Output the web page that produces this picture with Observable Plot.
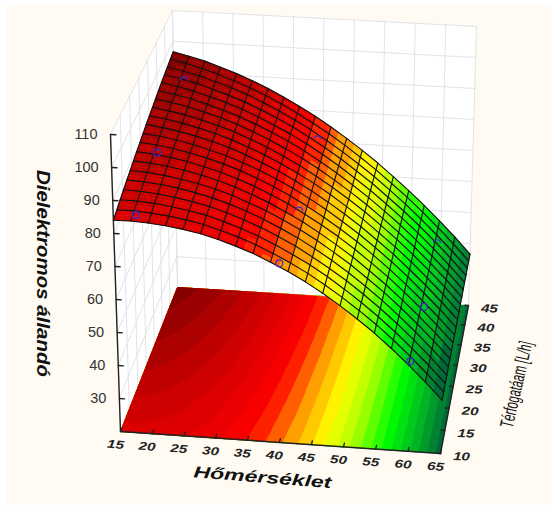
<!DOCTYPE html>
<html><head><meta charset="utf-8">
<script src="https://cdn.jsdelivr.net/npm/d3@7"></script>
<script src="https://cdn.jsdelivr.net/npm/@observablehq/plot@0.6"></script>
<style>
html,body{margin:0;padding:0;background:#fff}
#paper{position:absolute;left:7px;top:5px;width:545px;height:500px;background:#fffbf2}
#chart{position:absolute;left:0;top:0}
svg{background:transparent!important;display:block}
</style></head><body><div id="paper"></div><div id="chart"></div>
<script>
const tempTicks=[15,20,25,30,35,40,45,50,55,60,65];
const flowTicks=[10,15,20,25,30,35,40,45];
const zTicks=[30,40,50,60,70,80,90,100,110];
const meshTemps=[15,17.63,20.26,22.89,25.53,28.16,30.79,33.42,36.05,38.68,41.32,43.95,46.58,49.21,51.84,54.47,57.11,59.74,62.37,65];
const meshFlows=[10,11.84,13.68,15.53,17.37,19.21,21.05,22.89,24.74,26.58,28.42,30.26,32.11,33.95,35.79,37.63,39.47,41.32,43.16,45];
// dielectric constant: one row per flow, one column per temperature
const surface=[
[84.0,84.1,83.8,83.3,82.5,81.5,80.1,78.4,76.5,74.2,71.7,68.9,65.8,62.4,58.7,54.8,50.5,45.9,41.1,36.0],
[84.9,84.9,84.5,83.9,83.1,82.0,80.5,78.8,76.8,74.5,71.9,69.1,65.9,62.5,58.8,54.9,50.6,46.0,41.1,36.0],
[85.7,85.6,85.2,84.5,83.6,82.5,80.9,79.1,77.1,74.7,72.1,69.3,66.1,62.6,58.9,54.9,50.6,46.0,41.2,36.1],
[86.5,86.3,85.8,85.1,84.1,82.9,81.3,79.5,77.4,75.0,72.4,69.4,66.2,62.8,59.0,55.0,50.7,46.1,41.2,36.1],
[87.3,87.0,86.5,85.7,84.6,83.3,81.7,79.8,77.7,75.2,72.6,69.6,66.4,62.9,59.1,55.1,50.7,46.1,41.3,36.2],
[88.0,87.7,87.1,86.2,85.1,83.8,82.1,80.1,78.0,75.5,72.8,69.8,66.5,63.0,59.1,55.2,50.8,46.2,41.3,36.2],
[88.8,88.4,87.7,86.8,85.6,84.2,82.5,80.5,78.3,75.7,73.0,69.9,66.6,63.1,59.2,55.2,50.8,46.2,41.4,36.2],
[89.5,89.0,88.3,87.3,86.0,84.6,82.8,80.8,78.5,76.0,73.1,70.1,66.8,63.2,59.3,55.3,50.9,46.3,41.4,36.3],
[90.2,89.7,88.9,87.8,86.5,85.0,83.2,81.1,78.8,76.2,73.3,70.2,66.9,63.3,59.4,55.3,50.9,46.3,41.4,36.3],
[90.9,90.3,89.4,88.3,86.9,85.4,83.5,81.4,79.0,76.4,73.5,70.4,67.0,63.4,59.5,55.4,51.0,46.3,41.5,36.3],
[91.6,90.9,90.0,88.8,87.4,85.8,83.8,81.6,79.3,76.6,73.7,70.5,67.1,63.5,59.5,55.5,51.0,46.4,41.5,36.4],
[92.2,91.5,90.5,89.2,87.8,86.1,84.1,81.9,79.5,76.8,73.9,70.7,67.2,63.6,59.6,55.5,51.1,46.4,41.6,36.4],
[92.8,92.0,91.0,89.7,88.2,86.5,84.4,82.2,79.7,77.0,74.0,70.8,67.3,63.7,59.7,55.6,51.1,46.5,41.6,36.4],
[93.4,92.6,91.5,90.1,88.6,86.8,84.7,82.4,79.9,77.2,74.2,70.9,67.4,63.7,59.7,55.6,51.2,46.5,41.6,36.4],
[94.0,93.1,92.0,90.5,88.9,87.1,85.0,82.7,80.2,77.4,74.3,71.0,67.5,63.8,59.8,55.7,51.2,46.5,41.7,36.5],
[94.6,93.6,92.4,90.9,89.3,87.5,85.3,82.9,80.4,77.6,74.5,71.2,67.6,63.9,59.9,55.7,51.3,46.6,41.7,36.5],
[95.1,94.1,92.9,91.3,89.6,87.8,85.6,83.2,80.6,77.7,74.6,71.3,67.7,64.0,59.9,55.8,51.3,46.6,41.7,36.5],
[95.6,94.5,93.3,91.7,90.0,88.1,85.8,83.4,80.7,77.9,74.7,71.4,67.8,64.1,60.0,55.8,51.3,46.6,41.7,36.6],
[96.1,95.0,93.7,92.1,90.3,88.3,86.1,83.6,80.9,78.0,74.9,71.5,67.9,64.1,60.0,55.9,51.4,46.7,41.8,36.6],
[96.6,95.4,94.1,92.4,90.6,88.6,86.3,83.8,81.1,78.2,75.0,71.6,68.0,64.2,60.1,55.9,51.4,46.7,41.8,36.6]];
const obsTemp=[18.4,17.6,18,40,40,40,60,60,60];
const obsFlow=[10,25,40,10,25,40,10,25,40];
const obsZ=[86,87,93,74,71.5,76.5,47,44,45.5];
const obsHalf=[false,false,true,false,true,true,false,false,true];
const rampZ=[36,45,52,59.5,65.5,71,77.5,86,92,97];
const rampColor=["#00663a","#00c020","#00ff00","#aaff00","#ffff00","#ffa500","#ff0000","#d00000","#a80000","#800000"];
const bandStep=2.5;
const zFloor=20, zTop=110;
// camera of the 3D box: where its corners land on the picture
const floorQuad=[[120,431],[440,453],[468,305],[177,287]];
const topQuad=[[110,134],[449,153],[476,26],[172,10]];

function homography(q){
  const [[x0,y0],[x1,y1],[x2,y2],[x3,y3]]=q;
  const dx1=x1-x2,dx2=x3-x2,sx=x0-x1+x2-x3,dy1=y1-y2,dy2=y3-y2,sy=y0-y1+y2-y3;
  const den=dx1*dy2-dx2*dy1,g=(sx*dy2-dx2*sy)/den,h=(dx1*sy-sx*dy1)/den;
  const a=x1-x0+g*x1,b=x3-x0+h*x3,d=y1-y0+g*y1,e=y3-y0+h*y3;
  return (u,v)=>{const w=g*u+h*v+1;return [(a*u+b*v+x0)/w,(d*u+e*v+y0)/w];};
}
const hF=homography(floorQuad),hT=homography(topQuad);
function proj(T,F,z){
  const u=(T-15)/50,v=(F-10)/35,w=(z-zFloor)/(zTop-zFloor);
  const a=hF(u,v),b=hT(u,v);
  return [a[0]+(b[0]-a[0])*w,a[1]+(b[1]-a[1])*w];
}
const ramp=d3.scaleLinear().domain(rampZ).range(rampColor).interpolate(d3.interpolateRgb).clamp(true);
const band=z=>ramp((Math.floor(z/bandStep)+0.5)*bandStep);
const N=meshTemps.length,M=meshFlows.length;

let id=0;
// surface facets, coloured per sub-cell so the bands step across the mesh
const polys=[];
function addPoly(arr,corners,c){id++;for(const p of corners.concat([corners[0]]))arr.push({id,c,x:p[0],y:p[1]});}
const sub=2;
for(let j=0;j<M-1;j++)for(let i=0;i<N-1;i++)for(let b=0;b<sub;b++)for(let a=0;a<sub;a++){
  const val=(s,t)=>(1-s)*(1-t)*surface[j][i]+s*(1-t)*surface[j][i+1]+s*t*surface[j+1][i+1]+(1-s)*t*surface[j+1][i];
  const tt=s=>meshTemps[i]+(meshTemps[i+1]-meshTemps[i])*s, ff=t=>meshFlows[j]+(meshFlows[j+1]-meshFlows[j])*t;
  const s0=a/sub,s1=(a+1)/sub,t0=b/sub,t1=(b+1)/sub;
  const c=band(val((s0+s1)/2,(t0+t1)/2));
  addPoly(polys,[proj(tt(s0),ff(t0),val(s0,t0)),proj(tt(s1),ff(t0),val(s1,t0)),proj(tt(s1),ff(t1),val(s1,t1)),proj(tt(s0),ff(t1),val(s0,t1))],c);
}
// floor: filled contour bands of the same table
const floorBands=[];
const flat=surface.flat();
const thresholds=d3.range(35,100,bandStep);
const clampIdx=(c,n)=>Math.max(0,Math.min(n-1,c-0.5));
const atIdx=(arr,k)=>{const a=Math.min(arr.length-2,Math.floor(k));return arr[a]+(arr[a+1]-arr[a])*(k-a);};
for(const geo of d3.contours().size([N,M]).thresholds(thresholds)(flat)){
  const c=band(geo.value+0.1);
  for(const poly of geo.coordinates){
    id++;
    for(const p of poly[0]){
      const q=proj(atIdx(meshTemps,clampIdx(p[0],N)),atIdx(meshFlows,clampIdx(p[1],M)),zFloor);
      floorBands.push({id,c,x:q[0],y:q[1]});
    }
  }
}
// walls
const wallFill=[];
id++;[[15,10,zFloor],[15,45,zFloor],[15,45,zTop],[15,10,zTop]].forEach(p=>{const q=proj(...p);wallFill.push({id,x:q[0],y:q[1]});});
id++;[[15,45,zFloor],[65,45,zFloor],[65,45,zTop],[15,45,zTop]].forEach(p=>{const q=proj(...p);wallFill.push({id,x:q[0],y:q[1]});});
const grid=[];
function seg(arr,a,b){id++;for(const p of [a,b]){const q=proj(...p);arr.push({id,x:q[0],y:q[1]});}}
for(const z of [zFloor,...zTicks]){seg(grid,[15,10,z],[15,45,z]);seg(grid,[15,45,z],[65,45,z]);}
for(const F of flowTicks)seg(grid,[15,F,zFloor],[15,F,zTop]);
for(const T of tempTicks)seg(grid,[T,45,zFloor],[T,45,zTop]);
// mesh
const mesh=[];
meshFlows.forEach((F,j)=>{id++;meshTemps.forEach((T,i)=>{const q=proj(T,F,surface[j][i]);mesh.push({id,x:q[0],y:q[1]});});});
meshTemps.forEach((T,i)=>{id++;meshFlows.forEach((F,j)=>{const q=proj(T,F,surface[j][i]);mesh.push({id,x:q[0],y:q[1]});});});
// axes
const axisLines=[];
seg(axisLines,[15,10,zFloor],[15,10,zTop]);
seg(axisLines,[15,10,zFloor],[65,10,zFloor]);
seg(axisLines,[65,10,zFloor],[65,45,zFloor]);
for(const z of zTicks)seg(axisLines,[15,10,z],[15.8,10,z]);
for(const T of tempTicks)seg(axisLines,[T,10,zFloor],[T,10.8,zFloor]);
for(const F of flowTicks)seg(axisLines,[65,F,zFloor],[64.4,F,zFloor]);

const lbl=(vals,f)=>vals.map(v=>{const q=f(v);return {t:String(v),x:q[0],y:q[1]};});
const zLabels=lbl(zTicks,z=>proj(15,10,z));
const tLabels=lbl(tempTicks,T=>proj(T,10,zFloor));
const fLabels=lbl(flowTicks,F=>proj(65,F,zFloor));
const obs=obsTemp.map((T,i)=>{const q=proj(T,obsFlow[i],obsZ[i]);return {x:q[0],y:q[1],half:obsHalf[i]};});
const X=d=>d.x,Y=d=>d.y;
const tf="'Liberation Sans',Arial,sans-serif";
const title=(txt,dx,dy,rotate,fontSize,extra)=>Plot.text([txt],{frameAnchor:"top-left",textAnchor:"middle",lineAnchor:"middle",dx,dy,rotate,text:d=>d,fontSize,fontFamily:tf,fill:"#111",...extra});

const chart=Plot.plot({
  width:555,height:508,margin:0,
  style:{background:"transparent"},
  x:{domain:[0,555],range:[0,555],axis:null},
  y:{domain:[0,508],range:[0,508],axis:null},
  color:{type:"identity"},
  marks:[
    Plot.line(wallFill,{x:X,y:Y,z:"id",fill:"#ffffff",stroke:"none"}),
    Plot.line(grid,{x:X,y:Y,z:"id",stroke:"#e3e3e8",strokeWidth:1}),
    Plot.line(floorBands,{x:X,y:Y,z:"id",fill:"c",stroke:"c",strokeWidth:0.3}),
    Plot.line(axisLines,{x:X,y:Y,z:"id",stroke:"#222",strokeWidth:1.4}),
    Plot.line(polys,{x:X,y:Y,z:"id",fill:"c",stroke:"c",strokeWidth:0.5}),
    Plot.line(mesh,{x:X,y:Y,z:"id",stroke:"#111",strokeWidth:1.15}),
    Plot.dot(obs.filter(d=>!d.half),{x:X,y:Y,r:3.5,stroke:"#3a2ccc",strokeWidth:1.2,fill:"none"}),
    Plot.dot(obs.filter(d=>d.half),{x:X,y:Y,r:3.5,stroke:"#3a2ccc",strokeWidth:1.2,fill:"none",strokeDasharray:"11 11",strokeDashoffset:11}),
    Plot.text(zLabels,{x:X,y:Y,text:"t",dx:-13,textAnchor:"end",fontSize:14.5,fontFamily:tf,fill:"#333"}),
    Plot.text(tLabels,{x:X,y:Y,text:"t",dx:-5,dy:13,rotate:5,fontSize:11.5,fontWeight:"bold",fontStyle:"italic",fontFamily:tf,fill:"#222",className:"tlab"}),
    Plot.text(fLabels,{x:X,y:Y,text:"t",dx:21,dy:3,rotate:2,fontSize:11.5,fontWeight:"bold",fontStyle:"italic",fontFamily:tf,fill:"#222",className:"flab"}),
    title("Dielektromos állandó",43,273,90,19,{fontWeight:"bold",fontStyle:"italic",className:"zTitle"}),
    title("Hőmérséklet",262,477,4.5,16,{fontWeight:"bold",fontStyle:"italic",className:"xTitle"}),
    title("Térfogatáam [L/h]",516,384,-77,19,{className:"yTitle"})
  ]
});
const fit=(cls,len)=>d3.select(chart).selectAll("."+cls+" text").attr("textLength",len).attr("lengthAdjust","spacingAndGlyphs");
fit("xTitle",138);fit("yTitle",88);fit("zTitle",207);
d3.select(chart).selectAll(".tlab text,.flab text").attr("textLength",17).attr("lengthAdjust","spacingAndGlyphs");
document.getElementById("chart").append(chart);
</script></body></html>
